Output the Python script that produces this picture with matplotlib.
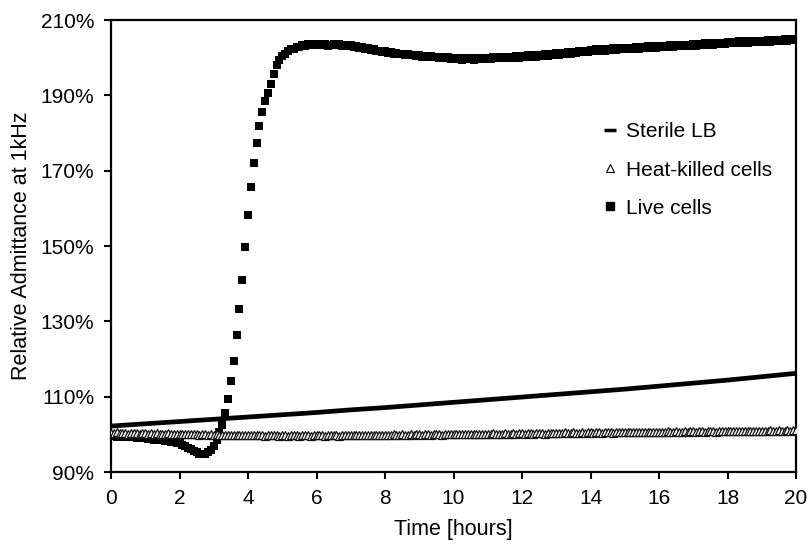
import numpy as np
import matplotlib
matplotlib.use("Agg")
import matplotlib.pyplot as plt
from matplotlib.lines import Line2D
from matplotlib.ticker import FuncFormatter

plt.rcParams["font.family"] = ["Liberation Sans", "DejaVu Sans"]

# readings every 5 minutes, 0 to 20 h
sample_minutes = 5
n_samples = 241

live_cells = [
    99.6, 99.8, 99.4, 99.7, 99.5, 99.3, 99.5, 99.2, 99.4, 99.1, 99.2, 98.9,
    99.1, 98.8, 98.9, 98.6, 98.7, 98.4, 98.6, 98.2, 98.3, 98.0, 98.1, 97.8,
    97.7, 97.3, 97.0, 96.5, 96.1, 95.6, 95.2, 94.9, 94.8, 94.9, 95.2, 95.9,
    97.0, 98.6, 100.5, 102.5, 105.6, 109.4, 114.1, 119.4, 126.3, 133.4, 141.1, 149.8,
    158.2, 165.6, 172.1, 177.3, 181.9, 185.7, 188.5, 190.7, 193.1, 195.8, 198.0, 199.5,
    200.4, 201.1, 201.7, 202.2, 202.4, 202.8, 202.8, 203.3, 203.1, 203.6, 203.3, 203.7,
    203.4, 203.6, 203.3, 203.7, 203.2, 203.5, 203.7, 203.3, 203.6, 203.2, 203.5, 203.1,
    203.3, 202.9, 203.1, 202.6, 202.9, 202.4, 202.5, 202.1, 202.2, 201.8, 201.9, 201.6,
    201.7, 201.3, 201.5, 201.1, 201.3, 200.9, 201.1, 200.7, 201.0, 200.6, 200.8, 200.4,
    200.7, 200.3, 200.5, 200.2, 200.4, 200.1, 200.3, 200.0, 200.2, 199.8, 200.1, 199.7,
    200.0, 199.6, 199.9, 199.5, 199.9, 199.6, 199.8, 199.5, 199.9, 199.6, 200.0, 199.7,
    200.0, 199.7, 200.1, 199.8, 200.2, 199.8, 200.3, 199.9, 200.3, 199.9, 200.4, 200.0,
    200.5, 200.1, 200.6, 200.2, 200.7, 200.3, 200.8, 200.4, 200.9, 200.5, 201.0, 200.7,
    201.2, 200.8, 201.3, 200.9, 201.4, 201.1, 201.6, 201.2, 201.7, 201.4, 201.9, 201.6,
    202.1, 201.7, 202.2, 201.8, 202.3, 201.9, 202.4, 202.0, 202.5, 202.1, 202.5, 202.2,
    202.6, 202.2, 202.7, 202.3, 202.8, 202.4, 202.9, 202.5, 203.0, 202.6, 203.1, 202.7,
    203.2, 202.8, 203.2, 202.9, 203.3, 202.9, 203.4, 203.0, 203.5, 203.1, 203.5, 203.2,
    203.6, 203.2, 203.7, 203.3, 203.8, 203.4, 203.8, 203.5, 203.9, 203.6, 204.0, 203.7,
    204.2, 203.8, 204.2, 203.9, 204.3, 203.9, 204.4, 204.0, 204.4, 204.1, 204.5, 204.1,
    204.5, 204.2, 204.6, 204.2, 204.7, 204.3, 204.8, 204.4, 204.9, 204.5, 205.0, 204.6,
    204.9,
]

heat_killed = [
    100.4, 100.3, 100.5, 100.4, 100.3, 100.4, 100.2, 100.4, 100.3, 100.3, 100.2, 100.4,
    100.3, 100.2, 100.3, 100.1, 100.3, 100.2, 100.2, 100.1, 100.3, 100.2, 100.1, 100.2,
    100.2, 100.1, 100.0, 100.2, 100.1, 100.0, 100.1, 99.9, 100.1, 100.0, 99.9, 100.0,
    99.9, 100.0, 99.8, 99.9, 99.9, 99.8, 99.9, 99.7, 99.9, 99.8, 99.8, 99.7,
    99.8, 99.7, 99.9, 99.8, 99.7, 99.8, 99.6, 99.8, 99.7, 99.7, 99.8, 99.6,
    99.7, 99.8, 99.6, 99.7, 99.7, 99.8, 99.6, 99.7, 99.8, 99.7, 99.6, 99.7,
    99.7, 99.8, 99.7, 99.6, 99.8, 99.7, 99.7, 99.8, 99.6, 99.8, 99.7, 99.8,
    99.8, 99.7, 99.9, 99.8, 99.7, 99.8, 99.9, 99.8, 99.7, 99.9, 99.8, 99.9,
    99.9, 99.8, 99.9, 100.0, 99.8, 99.9, 100.0, 99.9, 99.8, 100.0, 99.9, 100.0,
    100.0, 99.9, 100.1, 100.0, 99.9, 100.0, 100.1, 100.0, 99.9, 100.1, 100.0, 100.1,
    100.1, 100.0, 100.1, 100.2, 100.0, 100.1, 100.2, 100.1, 100.0, 100.2, 100.1, 100.2,
    100.2, 100.1, 100.3, 100.2, 100.1, 100.2, 100.3, 100.2, 100.1, 100.3, 100.2, 100.3,
    100.3, 100.2, 100.3, 100.4, 100.2, 100.3, 100.4, 100.3, 100.2, 100.4, 100.3, 100.4,
    100.4, 100.3, 100.4, 100.5, 100.3, 100.4, 100.5, 100.4, 100.3, 100.5, 100.4, 100.5,
    100.5, 100.4, 100.5, 100.6, 100.4, 100.5, 100.6, 100.5, 100.4, 100.6, 100.5, 100.6,
    100.6, 100.5, 100.6, 100.7, 100.5, 100.6, 100.7, 100.6, 100.5, 100.7, 100.6, 100.7,
    100.7, 100.6, 100.7, 100.8, 100.6, 100.7, 100.8, 100.7, 100.6, 100.8, 100.7, 100.8,
    100.8, 100.7, 100.8, 100.9, 100.7, 100.8, 100.9, 100.8, 100.7, 100.9, 100.8, 100.9,
    100.9, 100.8, 100.9, 101.0, 100.8, 100.9, 101.0, 100.9, 100.8, 101.0, 100.9, 101.0,
    101.0, 100.9, 101.0, 101.1, 100.9, 101.0, 101.1, 101.0, 100.9, 101.1, 101.0, 101.1,
    101.1,
]

# sterile LB read hourly
sterile_hours = list(range(21))
sterile_lb = [102.2, 102.8, 103.4, 104.0, 104.6, 105.2, 105.8, 106.5, 107.1, 107.8,
              108.5, 109.2, 109.9, 110.6, 111.3, 112.0, 112.8, 113.6, 114.4, 115.3, 116.2]

labels = ["Sterile LB", "Heat-killed cells", "Live cells"]
x_ticks = list(range(0, 21, 2))
y_ticks = [90, 110, 130, 150, 170, 190, 210]

time_h = np.arange(n_samples) * sample_minutes / 60.0

fig = plt.figure(figsize=(8.09, 5.47), dpi=100)
ax = fig.add_axes([0.1372, 0.1371, 0.8468, 0.8263])

ax.plot(time_h, live_cells, ls="none", marker="s", ms=5.8, color="black", mew=0, zorder=2)
ax.plot(time_h, heat_killed, ls="none", marker="^", ms=5.4, mfc="white", mec="#111111",
        mew=0.9, zorder=3)
ax.plot(sterile_hours, sterile_lb, color="black", lw=3.4, solid_capstyle="butt", zorder=4)

ax.set_xlim(0, 20)
ax.set_ylim(90, 210)
ax.set_xticks(x_ticks)
ax.set_yticks(y_ticks)
ax.yaxis.set_major_formatter(FuncFormatter(lambda v, p: f"{v:.0f}%"))
ax.tick_params(direction="out", length=5, width=1.5, labelsize=15, pad=7)
for s in ax.spines.values():
    s.set_linewidth(1.6)

ax.set_xlabel("Time [hours]", fontsize=15.5, labelpad=8)
ax.set_ylabel("Relative Admittance at 1kHz", fontsize=15.5, labelpad=6)

handles = [
    Line2D([], [], ls="none", marker="_", ms=8, mew=2.5, color="black"),
    Line2D([], [], ls="none", marker="^", ms=5.5, mfc="white", mec="black", mew=0.8),
    Line2D([], [], ls="none", marker="s", ms=6, color="black"),
]
ax.legend(handles, labels, loc="upper left", bbox_to_anchor=(0.69, 0.815), frameon=False,
          fontsize=15, handlelength=0.7, handletextpad=0.45, labelspacing=0.92)

fig.savefig("out.png", dpi=100)
